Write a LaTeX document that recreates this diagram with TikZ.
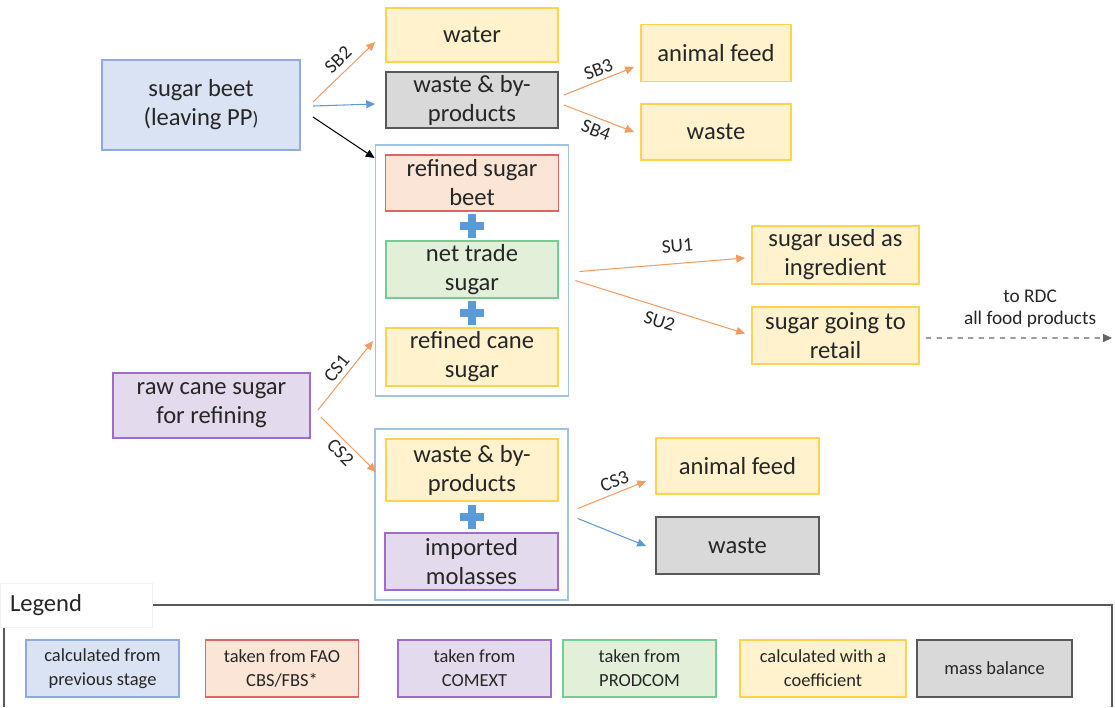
\documentclass[tikz,border=0pt]{standalone}
\usepackage{fontspec}
\setmainfont{Carlito}
\usetikzlibrary{arrows.meta,calc,fit}

\definecolor{txt}{HTML}{262626}
\definecolor{bluefill}{HTML}{DAE3F3}
\definecolor{blueline}{HTML}{8FAADC}
\definecolor{redfill}{HTML}{FBE5D6}
\definecolor{redline}{HTML}{E06464}
\definecolor{purplefill}{HTML}{E4DAEE}
\definecolor{purpleline}{HTML}{9E6CCC}
\definecolor{greenfill}{HTML}{E2F0D9}
\definecolor{greenline}{HTML}{74CE94}
\definecolor{yellowfill}{HTML}{FFF2CC}
\definecolor{yellowline}{HTML}{FFD34D}
\definecolor{grayfill}{HTML}{D9D9D9}
\definecolor{grayline}{HTML}{595959}
\definecolor{framecol}{HTML}{9DC3E6}
\definecolor{orangeflow}{HTML}{F29C62}
\definecolor{blueflow}{HTML}{5B9BD5}

\newcommand{\mainsize}{\fontsize{14}{16.5}\selectfont}
\newcommand{\legsize}{\fontsize{10.5}{13.5}\selectfont}
\newcommand{\lblsize}{\fontsize{11}{13}\selectfont}

\tikzset{
  box/.style={draw, line width=1.1pt, align=center, text=txt, inner sep=1pt, font=\mainsize},
  bluebox/.style={box, fill=bluefill, draw=blueline},
  redbox/.style={box, fill=redfill, draw=redline},
  purplebox/.style={box, fill=purplefill, draw=purpleline},
  greenbox/.style={box, fill=greenfill, draw=greenline},
  yellowbox/.style={box, fill=yellowfill, draw=yellowline},
  graybox/.style={box, fill=grayfill, draw=grayline},
  legbox/.style={minimum width=3.06cm, minimum height=1.14cm, font=\legsize},
  frame/.style={draw=framecol, line width=1pt, inner xsep=0.18cm, inner ysep=0.18cm},
  flow/.style={-{Triangle[length=5pt,width=4.5pt]}, line width=0.6pt},
  oflow/.style={flow, orangeflow},
  bflow/.style={flow, blueflow},
  lbl/.style={font=\lblsize, text=txt, sloped, inner sep=1pt},
  plusbar/.style={draw=blueflow, line width=0.17cm}
}

\begin{document}
\begin{tikzpicture}[x=0.02cm, y=-0.02cm]
\useasboundingbox (0,0) rectangle (1115,707);

% sugar beet branch
\node[bluebox, minimum width=3.96cm, minimum height=1.8cm] (beet) at (201,105) {sugar beet\\(leaving PP{\lblsize)}};
\node[yellowbox, minimum width=3.44cm, minimum height=1.08cm] (water) at (472,35) {water};
\node[graybox, minimum width=3.44cm, minimum height=1.12cm] (wasteSB) at (472,100) {waste \& by-\\products};
\node[yellowbox, minimum width=3.0cm, minimum height=1.14cm] (feedSB) at (716,53) {animal feed};
\node[yellowbox, minimum width=3.0cm, minimum height=1.12cm] (wasteTop) at (716,132) {waste};

% refined sugar
\node[redbox, minimum width=3.46cm, minimum height=1.12cm] (refbeet) at (472,183) {refined sugar\\beet};
\node[greenbox, minimum width=3.44cm, minimum height=1.14cm] (nettrade) at (472,269.5) {net trade\\sugar};
\node[yellowbox, minimum width=3.44cm, minimum height=1.16cm] (refcane) at (472,357) {refined cane\\sugar};
\node[frame, fit=(refbeet)(refcane)] (frameA) {};
\node[yellowbox, minimum width=3.34cm, minimum height=1.16cm] (ingredient) at (835.5,255) {sugar used as\\ingredient};
\node[yellowbox, minimum width=3.34cm, minimum height=1.14cm] (retail) at (835.5,335.5) {sugar going to\\retail};
\coordinate (rdc) at (1112,338);

% cane sugar branch
\node[purplebox, minimum width=3.94cm, minimum height=1.3cm] (rawcane) at (211.5,405.5) {raw cane sugar\\for refining};
\node[yellowbox, minimum width=3.44cm, minimum height=1.24cm] (wasteCS) at (472,470) {waste \& by-\\products};
\node[purplebox, minimum width=3.46cm, minimum height=1.14cm] (molasses) at (471.5,561.5) {imported\\molasses};
\node[frame, fit=(wasteCS)(molasses)] (frameB) {};
\node[yellowbox, minimum width=3.26cm, minimum height=1.12cm] (feedCS) at (737.5,466) {animal feed};
\node[graybox, minimum width=3.26cm, minimum height=1.14cm] (wasteBot) at (737.5,545.5) {waste};

% plus signs
\path[plusbar] ($(refbeet.south)!.5!(nettrade.north)$) +(-12,0) -- +(12,0) +(0,-12) -- +(0,12);
\path[plusbar] ($(nettrade.south)!.5!(refcane.north)$) +(-12,0) -- +(12,0) +(0,-12) -- +(0,12);
\path[plusbar] ($(wasteCS.south)!.5!(molasses.north)$) +(-12,0) -- +(12,0) +(0,-12) -- +(0,12);

% flows
\draw[oflow] ($(beet.east)+(12,-3)$) -- node[lbl, pos=0.55, above=2.5pt] {SB2} ($(water.west)+(-10,7)$);
\draw[bflow] ($(beet.east)+(12,1)$) -- ($(wasteSB.west)+(-10,4)$);
\draw[flow, black] ($(beet.east)+(12,12)$) -- ($(refbeet.west)+(-10,-25)$);
\draw[oflow] ($(wasteSB.east)+(5,-5)$) -- node[lbl, pos=0.55, above=1.5pt] {SB3} ($(feedSB.west)+(-6,14)$);
\draw[oflow] ($(wasteSB.east)+(5,5)$) -- node[lbl, pos=0.52, below=2pt] {SB4} ($(wasteTop.west)+(-6,0)$);
\draw[oflow] ($(frameA.east)+(10,1)$) -- node[lbl, pos=0.6, above=5pt] {SU1} ($(ingredient.west)+(-6,3)$);
\draw[oflow] ($(frameA.east)+(6,10)$) -- node[lbl, pos=0.52, below=3pt] {SU2} ($(retail.west)+(-6,-2)$);
\draw[flow, dashed, gray!80!black] ($(retail.east)+(6,2.5)$) -- node[pos=0.56, above=2pt, font=\lblsize, text=txt, align=center] {to RDC\\all food products} (rdc);
\draw[oflow] ($(rawcane.east)+(7,4.5)$) -- node[lbl, above=1.5pt] {CS1} ($(refcane.west)+(-12,-16)$);
\draw[oflow] ($(rawcane.east)+(10,11.5)$) -- node[lbl, below=1.5pt] {CS2} ($(wasteCS.west)+(-9,2)$);
\draw[oflow] ($(frameB.east)+(9,-6)$) -- node[lbl, pos=0.6, above=1.5pt] {CS3} ($(feedCS.west)+(-9,15)$);
\draw[bflow] ($(frameB.east)+(9,4)$) -- ($(wasteBot.west)+(-9,0.5)$);

% legend
\draw[grayline, line width=0.9pt] (4,707) -- (4,605) -- (1112,605) -- (1112,707);
\node[fill=white, draw=gray!12, minimum width=3.04cm, minimum height=0.88cm, text width=2.64cm, inner xsep=0.2cm, align=left, font=\mainsize, text=txt] (legend) at (76,605) {Legend};
\node[bluebox, legbox] (legA) at (102.5,668.5) {calculated from\\previous stage};
\node[redbox, legbox] (legB) at (282,668.5) {taken from FAO\\CBS/FBS*};
\node[purplebox, legbox] (legC) at (474.5,668.5) {taken from\\COMEXT};
\node[greenbox, legbox] (legD) at (639.5,668.5) {taken from\\PRODCOM};
\node[yellowbox, legbox, minimum width=3.32cm] (legE) at (823,668.5) {calculated with a\\coefficient};
\node[graybox, legbox, minimum width=3.1cm] (legF) at (994.5,668.5) {mass balance};
\end{tikzpicture}
\end{document}
